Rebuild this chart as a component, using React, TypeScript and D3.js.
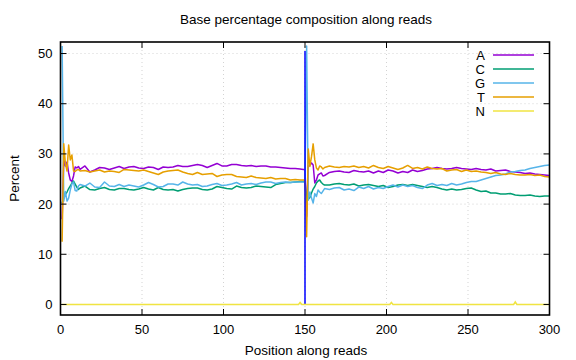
import React from 'react';
import * as d3 from 'd3';

const width = 576;
const height = 360;
const margin = { top: 42, right: 26.5, bottom: 45, left: 60.5 };

// read positions (cycles) where the values were taken off the picture
const positions = [
    1, 2, 3, 4, 5, 6, 7, 8, 9, 10, 11, 12,
    15, 18, 21, 24, 27, 30, 33, 36, 39, 42, 45, 48, 51, 54, 57, 60, 63, 66, 69, 72, 75, 78, 81, 84, 87, 90,
    93, 96, 99, 102, 105, 108, 111, 114, 117, 120, 123, 126, 129, 132, 135, 138, 141, 144, 147,
    149, 150,
    151, 152, 153, 154, 155, 156, 157, 158, 159, 160, 161, 162,
    165, 168, 171, 174, 177, 180, 183, 186, 189, 192, 195, 198, 201, 204, 207, 210, 213, 216, 219, 222, 225, 228,
    231, 234, 237, 240, 243, 246, 249, 252, 255, 258, 261, 264, 267, 270, 273, 276, 279, 282, 285, 288, 291, 294, 297,
    300,
];

const baseA = [
    17.0, 28.8, 27.6, 28.4, 26.2, 24.8, 24.5, 25.6, 27.4, 27.2, 27.5, 26.9,
    27.6, 26.4, 26.8, 27.3, 27.2, 26.9, 27.2, 27.5, 27.1, 27.4, 27.5, 27.2, 27.1, 27.4, 27.3, 26.9, 27.4, 27.3, 27.4, 27.7, 27.5, 27.5, 27.7, 27.9, 27.7, 27.3,
    27.7, 28.1, 27.6, 27.6, 27.9, 27.9, 27.7, 27.6, 27.7, 27.5, 27.6, 27.6, 27.4, 27.4, 27.3, 27.2, 27.1, 27.1, 27.0,
    26.9, 26.9,
    17.5, 27.5, 27.8, 28.2, 27.8, 24.2, 24.8, 25.8, 26.0, 26.2, 25.6, 25.7,
    26.3, 26.5, 26.6, 26.4, 26.3, 26.7, 26.5, 26.4, 26.6, 26.2, 26.6, 26.3, 26.8, 26.6, 26.2, 26.5, 26.3, 26.8, 26.5, 26.7, 27.0, 27.1,
    27.3, 27.1, 27.0, 27.1, 27.3, 27.1, 27.0, 26.9, 27.1, 26.9, 26.8, 27.0, 26.6, 26.7, 26.8, 26.5, 26.4, 26.3, 26.1, 26.2, 26.0, 25.9, 25.8,
    25.7,
];

const baseC = [
    20.2, 21.3, 21.9, 22.4, 23.1, 23.6, 24.2, 24.6, 24.0, 23.4, 22.9, 23.2,
    23.6, 22.9, 22.8, 23.1, 23.3, 22.9, 22.8, 23.1, 23.1, 22.9, 22.8, 23.0, 23.3, 23.0, 22.8, 23.3, 22.9, 22.8, 22.9, 22.6, 22.9, 23.1, 23.2, 23.2, 22.9, 22.8,
    23.0, 23.5, 23.3, 23.1, 23.0, 23.6, 23.3, 23.2, 23.3, 23.6, 23.5, 23.4, 23.3, 23.9, 24.1, 24.3, 24.3, 24.4, 24.5,
    24.5, 24.5,
    20.5, 21.0, 21.3, 22.2, 23.0, 23.5, 24.2, 24.6, 24.8, 24.3, 24.0, 23.8,
    23.8, 24.0, 24.1, 23.9, 23.8, 24.0, 23.6, 23.8, 23.9, 23.7, 23.5, 23.7, 23.3, 23.5, 23.8, 23.9, 23.7, 23.9, 23.7, 23.5, 23.3, 23.5,
    23.3, 23.0, 22.8, 23.0, 22.8, 22.9, 23.1, 23.2, 22.8, 22.5, 22.6, 22.2, 22.2, 22.0, 22.0, 22.1, 21.8, 21.7, 21.7, 21.8, 21.6, 21.5, 21.6,
    21.6,
];

const baseG = [
    51.5, 20.6, 22.5, 20.6, 21.2, 22.8, 24.0, 24.4, 22.7, 22.6, 23.6, 23.9,
    23.6, 24.2, 23.4, 23.3, 24.4, 23.6, 23.5, 23.9, 23.5, 23.8, 23.6, 23.4, 23.8, 24.3, 23.9, 23.4, 23.5, 24.0, 24.0, 23.8, 24.4, 24.0, 23.8, 23.9, 23.5, 23.6,
    23.9, 24.1, 23.7, 23.8, 24.0, 24.3, 23.8, 24.0, 24.1, 23.9, 24.2, 24.4, 24.4, 24.1, 24.3, 24.4, 24.3, 24.4, 24.4,
    24.4, 24.3,
    51.5, 20.8, 22.4, 21.2, 20.2, 22.1, 21.5, 22.8, 22.4, 22.1, 22.6, 23.1,
    22.9, 23.2, 23.3, 22.8, 23.0, 22.7, 23.4, 23.1, 23.5, 23.0, 23.3, 23.1, 23.5, 23.8, 23.4, 23.8, 23.5, 23.7, 23.3, 23.1, 23.8, 24.1,
    23.7, 23.9, 23.7, 24.1, 23.8, 24.0, 24.3, 24.5, 24.5, 24.8, 25.1, 25.4, 25.7, 25.8, 26.0, 26.4, 26.5, 26.7, 26.8, 27.1, 27.3, 27.5, 27.7,
    27.8,
];

const baseT = [
    12.5, 32.0, 28.1, 26.6, 31.8, 28.8, 29.8, 26.6, 26.5, 26.8, 26.9, 26.6,
    26.7, 26.4, 26.6, 26.8, 26.4, 26.6, 26.5, 26.3, 26.9, 26.8, 26.7, 26.6, 26.8, 26.5, 26.2, 25.9, 26.4, 26.6, 26.7, 26.8, 26.4, 26.1, 25.9, 26.3, 25.9, 26.0,
    26.1, 25.5, 25.8, 25.9, 25.9, 25.5, 25.4, 25.3, 25.6, 25.3, 25.2, 25.1, 25.3, 25.0, 25.1, 25.1, 24.8, 24.9, 24.8,
    24.8, 24.8,
    13.5, 31.0, 27.5, 29.5, 32.0, 28.8, 27.2, 26.8, 27.6, 27.4, 27.0, 27.3,
    27.6, 27.4, 27.3, 27.5, 27.4, 27.6, 27.3, 27.5, 27.2, 27.7, 27.3, 27.1, 27.5, 27.2, 26.9, 27.2, 27.7, 27.1, 27.3, 27.0, 27.4, 27.1,
    27.0, 27.1, 26.6, 26.8, 26.9, 26.5, 26.8, 26.5, 26.6, 26.4, 26.3, 26.1, 26.3, 26.0, 25.9, 26.1, 25.9, 25.8, 25.8, 25.9, 25.7, 25.8, 25.5,
    25.4,
];

// N only shows up as tiny bumps
const nPositions = [1, 146, 147, 148, 202, 203, 204, 278, 279, 280, 300];
const baseN = [0, 0, 0.4, 0, 0, 0.4, 0, 0, 0.5, 0, 0];

const series = [
    { name: 'A', color: '#9400d3', values: baseA, xs: positions },
    { name: 'C', color: '#009e73', values: baseC, xs: positions },
    { name: 'G', color: '#56b4e9', values: baseG, xs: positions },
    { name: 'T', color: '#e69f00', values: baseT, xs: positions },
    { name: 'N', color: '#f0e442', values: baseN, xs: nPositions },
];

const xTicks = [0, 50, 100, 150, 200, 250, 300];
const yTicks = [0, 10, 20, 30, 40, 50];
const readBoundary = 150;

const font = '"Liberation Sans", Arial, sans-serif';

const App = () => {
    const xScale = d3.scaleLinear().domain([0, 300]).range([margin.left, width - margin.right]);
    const yScale = d3.scaleLinear().domain([-2.1, 52.3]).range([height - margin.bottom, margin.top]);

    const x0 = margin.left;
    const x1 = width - margin.right;
    const y0 = height - margin.bottom;
    const y1 = margin.top;
    const tick = 6;

    const makeLine = (xs) => d3.line()
        .x((d, i) => xScale(xs[i]))
        .y(d => yScale(d));

    const mainSeries = series.filter(s => s.name !== 'N');
    const nSeries = series.find(s => s.name === 'N');

    return (
        <svg width={width} height={height} style={{ position: 'absolute', left: 0, top: 0, background: '#fff' }}>
            <text x={306} y={24} textAnchor="middle" fontFamily={font} fontSize={13.5}>
                Base percentage composition along reads
            </text>

            {/* grid */}
            <g stroke="#c8c8c8" strokeWidth={0.8} strokeDasharray="1,3">
                {xTicks.slice(1, -1).map(t => (
                    <line key={'gx' + t} x1={xScale(t)} x2={xScale(t)} y1={y0} y2={y1} />
                ))}
                {yTicks.map(t => (
                    <line key={'gy' + t} x1={x0} x2={x1} y1={yScale(t)} y2={yScale(t)} />
                ))}
            </g>

            {/* data */}
            <g fill="none" strokeWidth={1.5} strokeLinejoin="round">
                {mainSeries.map(s => (
                    <path key={s.name} d={makeLine(s.xs)(s.values)} stroke={s.color} />
                ))}
            </g>
            <line x1={xScale(readBoundary)} x2={xScale(readBoundary)} y1={yScale(0)} y2={yScale(50.5)}
                stroke="#0000ff" strokeWidth={1.5} />
            <path d={makeLine(nSeries.xs)(nSeries.values)} fill="none" stroke={nSeries.color} strokeWidth={1.5} />

            {/* ticks */}
            <g stroke="#000" strokeWidth={1}>
                {xTicks.map(t => (
                    <g key={'tx' + t}>
                        <line x1={xScale(t)} x2={xScale(t)} y1={y0} y2={y0 - tick} />
                        <line x1={xScale(t)} x2={xScale(t)} y1={y1} y2={y1 + tick} />
                    </g>
                ))}
                {yTicks.map(t => (
                    <g key={'ty' + t}>
                        <line x1={x0} x2={x0 + tick} y1={yScale(t)} y2={yScale(t)} />
                        <line x1={x1} x2={x1 - tick} y1={yScale(t)} y2={yScale(t)} />
                    </g>
                ))}
            </g>
            <rect x={x0} y={y1} width={x1 - x0} height={y0 - y1} fill="none" stroke="#000" strokeWidth={1.6} />

            {/* tick labels */}
            <g fontFamily={font} fontSize={13}>
                {xTicks.map(t => (
                    <text key={'lx' + t} x={xScale(t)} y={y0 + 19} textAnchor="middle">{t}</text>
                ))}
                {yTicks.map(t => (
                    <text key={'ly' + t} x={x0 - 8} y={yScale(t) + 4.5} textAnchor="end">{t}</text>
                ))}
            </g>

            <text x={306} y={355} textAnchor="middle" fontFamily={font} fontSize={13.5}>Position along reads</text>
            <text transform={`translate(19, ${(y0 + y1) / 2}) rotate(-90)`} textAnchor="middle" fontFamily={font} fontSize={13.5}>
                Percent
            </text>

            {/* legend */}
            <g fontFamily={font} fontSize={13}>
                {series.map((s, i) => (
                    <g key={'leg' + s.name}>
                        <text x={485} y={59.5 + i * 14} textAnchor="end">{s.name}</text>
                        <line x1={493} x2={534} y1={55 + i * 14} y2={55 + i * 14} stroke={s.color} strokeWidth={1.5} />
                    </g>
                ))}
            </g>
        </svg>
    );
};

export default App;
